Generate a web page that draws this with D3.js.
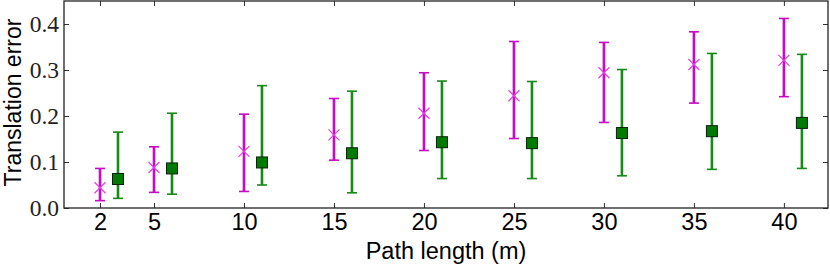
<!DOCTYPE html>
<html>
<head>
<meta charset="utf-8">
<script src="https://cdn.jsdelivr.net/npm/d3@7"></script>
<style>
  body { margin: 0; background: #fff; }
</style>
</head>
<body>
<div id="chart"></div>
<script>
// path lengths (m)
const lengths = [2, 5, 10, 15, 20, 25, 30, 35, 40];

// magenta series (x markers)
const magMean = [0.044, 0.088, 0.123, 0.159, 0.206, 0.244, 0.294, 0.312, 0.321];
const magLow  = [0.016, 0.034, 0.036, 0.104, 0.125, 0.151, 0.186, 0.228, 0.242];
const magHigh = [0.086, 0.133, 0.204, 0.238, 0.294, 0.362, 0.360, 0.383, 0.412];

// green series (square markers), drawn shifted by +1
const grnMean = [0.063, 0.086, 0.099, 0.119, 0.143, 0.141, 0.163, 0.167, 0.185];
const grnLow  = [0.021, 0.030, 0.050, 0.033, 0.064, 0.064, 0.070, 0.084, 0.086];
const grnHigh = [0.165, 0.206, 0.266, 0.254, 0.276, 0.275, 0.301, 0.336, 0.334];

const yTicks = [0.0, 0.1, 0.2, 0.3, 0.4];

const width = 830, height = 265;
const margin = {left: 64, right: 2, top: 1, bottom: 57};
const xMax = 42.45;

const x = d3.scaleLinear().domain([0, xMax]).range([margin.left, width - margin.right]);
const y = d3.scaleLinear().domain([0, 0.45]).range([height - margin.bottom, margin.top]);

const svg = d3.select("#chart").append("svg")
    .attr("width", width)
    .attr("height", height);

// bottom axis: ticks inward, sans labels
const xAxis = svg.append("g")
    .attr("transform", `translate(0,${y(0)})`)
    .call(d3.axisBottom(x).tickValues(lengths).tickSizeInner(-5).tickSizeOuter(0).tickPadding(13));
xAxis.select(".domain").remove();
xAxis.selectAll("text")
    .attr("dy", null)
    .attr("y", 22)
    .style("font-family", "'Liberation Sans', Arial, sans-serif")
    .style("font-size", "23.5px")
    .attr("fill", "#000");

// top ticks
const xTop = svg.append("g")
    .attr("transform", `translate(0,${y(0.45)})`)
    .call(d3.axisTop(x).tickValues(lengths).tickSizeInner(-5).tickSizeOuter(0).tickFormat(""));
xTop.select(".domain").remove();

// left axis, serif labels
const yAxis = svg.append("g")
    .attr("transform", `translate(${x(0)},0)`)
    .call(d3.axisLeft(y).tickValues(yTicks).tickFormat(d3.format(".1f")).tickSizeInner(-5).tickSizeOuter(0).tickPadding(5));
yAxis.select(".domain").remove();
yAxis.selectAll("text")
    .style("font-family", "'Liberation Serif', 'Times New Roman', serif")
    .style("font-size", "23.5px")
    .attr("fill", "#222");

// right ticks
const yRight = svg.append("g")
    .attr("transform", `translate(${x(xMax)},0)`)
    .call(d3.axisRight(y).tickValues(yTicks).tickSizeInner(-5).tickSizeOuter(0).tickFormat(""));
yRight.select(".domain").remove();

svg.selectAll(".tick line").attr("stroke", "#333");

// frame
svg.append("rect")
    .attr("x", x(0))
    .attr("y", y(0.45))
    .attr("width", x(xMax) - x(0))
    .attr("height", y(0) - y(0.45))
    .attr("fill", "none")
    .attr("stroke", "#222")
    .attr("stroke-width", 1.3);

// error bars
function errorBars(cls, color, shift, low, high) {
  const g = svg.append("g").attr("class", cls);
  const cap = 5;
  lengths.forEach((L, i) => {
    const cx = x(L + shift);
    g.append("line")
        .attr("x1", cx).attr("x2", cx)
        .attr("y1", y(low[i])).attr("y2", y(high[i]))
        .attr("stroke", color).attr("stroke-width", 2.6);
    [low[i], high[i]].forEach(v => {
      g.append("line")
          .attr("x1", cx - cap).attr("x2", cx + cap)
          .attr("y1", y(v)).attr("y2", y(v))
          .attr("stroke", color).attr("stroke-width", 1.6);
    });
  });
  return g;
}

errorBars("mag", "#c80ac8", 0, magLow, magHigh);
errorBars("grn", "#178a17", 1, grnLow, grnHigh);

// magenta x markers
const s = 5.5;
svg.append("g")
  .selectAll("path")
  .data(lengths)
  .join("path")
    .attr("d", (d, i) => {
      const cx = x(d), cy = y(magMean[i]);
      return `M${cx - s},${cy - s}L${cx + s},${cy + s}M${cx - s},${cy + s}L${cx + s},${cy - s}`;
    })
    .attr("stroke", "#e040e0")
    .attr("stroke-width", 1.2)
    .attr("fill", "none");

// green squares
const sq = 11;
svg.append("g")
  .selectAll("rect")
  .data(lengths)
  .join("rect")
    .attr("x", d => x(d + 1) - sq / 2)
    .attr("y", (d, i) => y(grnMean[i]) - sq / 2)
    .attr("width", sq)
    .attr("height", sq)
    .attr("fill", "#007a00")
    .attr("stroke", "#0a200a")
    .attr("stroke-width", 1);

// axis titles
svg.append("text")
    .attr("x", (x(0) + x(xMax)) / 2)
    .attr("y", 259)
    .attr("text-anchor", "middle")
    .style("font-family", "'Liberation Sans', Arial, sans-serif")
    .style("font-size", "23.5px")
    .text("Path length (m)");

svg.append("text")
    .attr("transform", "translate(20.5,102.5) rotate(-90)")
    .attr("text-anchor", "middle")
    .style("font-family", "'Liberation Sans', Arial, sans-serif")
    .style("font-size", "23px")
    .text("Translation error");
</script>
</body>
</html>
